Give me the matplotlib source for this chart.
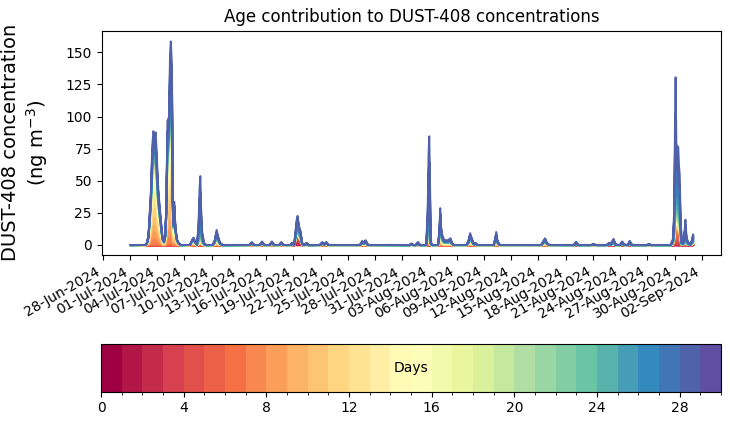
import numpy as np
import pandas as pd
import matplotlib
matplotlib.use("Agg")
import matplotlib.pyplot as plt
import matplotlib.dates as mdates
from matplotlib.colors import BoundaryNorm
from matplotlib.cm import ScalarMappable

# ---------------- data ----------------
n_days = 30

# age profiles (relative weights for age bins 0-1 ... 29-30 days)
prof_A = [0, 0, 0, 0, 0, 0.5, 1, 5, 6, 6, 7, 7, 7, 7, 6, 5, 4,
          2, 1.5, 1.5, 1, 1, 1, 1, 2, 2, 2, 3, 4, 8]
prof_old = [0, 0, 0, 0, 0, 1, 1, 1, 1, 1, 1, 1, 1, 1, 1, 1, 1,
            1, 1, 2, 2, 2, 2, 3, 4, 6, 9, 12, 16, 22]
prof_R = [0, 3, 10, 12, 6, 3, 2, 1, 1, 1, 1, 1, 1, 1, 1, 1, 1,
          1, 1, 1, 1, 1, 1, 2, 3, 5, 6, 8, 10, 12]
prof_Y = [0, 0, 0, 0, 0, 0, 1, 2, 3, 3, 4, 5, 5, 5, 5, 4, 3,
          1, 1, 1, 1, 1, 1, 1, 3, 4, 6, 8, 10, 14]
prof_O = [0, 0, 1, 2, 3, 4, 3, 2, 1, 1, 1, 1, 1, 1, 1, 1, 1,
          1, 1, 1, 1, 2, 2, 2, 3, 5, 8, 12, 16, 22]
profiles = {"A": prof_A, "B": prof_old, "R": prof_R, "Y": prof_Y, "O": prof_O}

node_times = [
    "2024-07-01 00:00", "2024-07-02 16:00", "2024-07-02 20:00", "2024-07-03 00:00",
    "2024-07-03 06:00", "2024-07-03 10:00", "2024-07-03 13:00", "2024-07-03 16:00",
    "2024-07-03 19:00", "2024-07-03 22:00", "2024-07-04 01:00", "2024-07-04 04:00",
    "2024-07-04 08:00", "2024-07-04 13:00", "2024-07-04 17:00", "2024-07-04 20:00",
    "2024-07-04 23:00", "2024-07-05 02:00", "2024-07-05 06:00", "2024-07-05 09:00",
    "2024-07-05 11:00", "2024-07-05 14:00", "2024-07-05 16:00", "2024-07-05 18:00",
    "2024-07-05 20:00", "2024-07-05 23:00", "2024-07-06 03:00", "2024-07-06 08:00",
    "2024-07-06 14:00",
    "2024-07-07 14:00", "2024-07-07 19:00", "2024-07-07 23:00", "2024-07-08 03:00",
    "2024-07-08 08:00", "2024-07-08 12:00", "2024-07-08 15:00", "2024-07-08 17:00",
    "2024-07-08 19:00", "2024-07-08 22:00", "2024-07-09 03:00", "2024-07-09 08:00",
    "2024-07-10 02:00", "2024-07-10 07:00", "2024-07-10 12:00", "2024-07-10 16:00",
    "2024-07-10 21:00", "2024-07-11 04:00",
    "2024-07-14 03:00", "2024-07-14 09:00", "2024-07-14 15:00",
    "2024-07-15 06:00", "2024-07-15 12:00", "2024-07-15 18:00",
    "2024-07-16 08:00", "2024-07-16 14:00", "2024-07-16 20:00",
    "2024-07-17 09:00", "2024-07-17 15:00", "2024-07-17 21:00",
    "2024-07-18 15:00", "2024-07-18 20:00", "2024-07-19 01:00", "2024-07-19 05:00",
    "2024-07-19 07:00", "2024-07-19 10:00", "2024-07-19 14:00", "2024-07-19 18:00",
    "2024-07-19 22:00", "2024-07-20 03:00", "2024-07-20 10:00", "2024-07-20 15:00",
    "2024-07-21 21:00", "2024-07-22 03:00", "2024-07-22 08:00", "2024-07-22 14:00",
    "2024-07-22 20:00",
    "2024-07-26 07:00", "2024-07-26 13:00", "2024-07-26 17:00", "2024-07-26 22:00",
    "2024-07-27 04:00",
    "2024-07-31 18:00", "2024-07-31 23:00", "2024-08-01 04:00",
    "2024-08-01 10:00", "2024-08-01 16:00", "2024-08-01 22:00",
    "2024-08-02 14:00", "2024-08-02 18:00", "2024-08-02 20:00", "2024-08-02 22:00",
    "2024-08-03 00:00", "2024-08-03 02:00", "2024-08-03 06:00",
    "2024-08-03 20:00", "2024-08-03 22:00", "2024-08-04 01:00", "2024-08-04 03:00",
    "2024-08-04 05:00", "2024-08-04 09:00", "2024-08-04 14:00", "2024-08-05 00:00",
    "2024-08-05 06:00", "2024-08-05 10:00", "2024-08-05 15:00",
    "2024-08-07 00:00", "2024-08-07 05:00", "2024-08-07 10:00", "2024-08-07 15:00",
    "2024-08-07 20:00", "2024-08-08 00:00", "2024-08-08 05:00",
    "2024-08-10 00:00", "2024-08-10 04:00", "2024-08-10 07:00", "2024-08-10 10:00",
    "2024-08-10 15:00", "2024-08-10 20:00",
    "2024-08-15 06:00", "2024-08-15 11:00", "2024-08-15 16:00", "2024-08-15 21:00",
    "2024-08-16 03:00",
    "2024-08-18 20:00", "2024-08-19 02:00", "2024-08-19 08:00",
    "2024-08-20 18:00", "2024-08-21 00:00", "2024-08-21 06:00",
    "2024-08-22 11:00", "2024-08-22 17:00", "2024-08-22 21:00", "2024-08-23 05:00",
    "2024-08-23 11:00",
    "2024-08-23 22:00", "2024-08-24 04:00", "2024-08-24 10:00",
    "2024-08-24 18:00", "2024-08-25 00:00", "2024-08-25 06:00",
    "2024-08-26 21:00", "2024-08-27 03:00", "2024-08-27 09:00",
    "2024-08-29 12:00", "2024-08-29 18:00", "2024-08-29 21:00", "2024-08-30 00:00",
    "2024-08-30 01:00", "2024-08-30 03:00", "2024-08-30 05:00", "2024-08-30 08:00",
    "2024-08-30 10:00", "2024-08-30 12:00", "2024-08-30 14:00", "2024-08-30 17:00",
    "2024-08-30 21:00", "2024-08-31 01:00", "2024-08-31 03:00", "2024-08-31 06:00",
    "2024-08-31 11:00", "2024-08-31 16:00", "2024-08-31 20:00", "2024-08-31 23:00",
    "2024-09-01 00:00",
]
node_totals = [
    0.3, 0.3, 2, 8,
    40, 78, 89, 83,
    88, 70, 48, 36,
    22, 6, 3, 8,
    30, 97, 100, 150,
    159, 140, 40, 18,
    34, 15, 5, 1.5,
    0.3,
    0.3, 4, 6, 3,
    1, 15, 45, 54,
    30, 10, 2, 0.3,
    0.3, 4, 12, 7,
    2, 0.3,
    0.3, 2.5, 0.3,
    0.3, 3, 0.3,
    0.3, 3, 0.3,
    0.3, 2.5, 0.3,
    0.3, 2, 0.5, 12,
    19, 23, 15, 11,
    2, 0.3, 2, 0.3,
    0.3, 2.5, 0.8, 2.5,
    0.3,
    0.3, 3.5, 2, 4,
    0.3,
    0.3, 1.5, 0.3,
    0.3, 2.6, 0.3,
    0.3, 30, 70, 85,
    50, 3, 0.3,
    0.3, 2, 14, 29,
    15, 7, 4, 4,
    5.5, 2, 0.3,
    0.3, 3, 9.5, 5,
    1, 2, 0.3,
    0.3, 5, 10.4, 4,
    0.5, 0.3,
    0.3, 3, 5.5, 2,
    0.3,
    0.3, 2.8, 0.3,
    0.3, 1, 0.3,
    0.3, 2, 1, 5,
    0.5,
    0.3, 3, 0.5,
    0.3, 3.5, 0.3,
    0.3, 1, 0.3,
    0.3, 5, 25, 110,
    131, 80, 76, 77,
    62, 55, 25, 3,
    2, 12, 20, 6,
    2, 1, 4, 8.6,
    8,
]
node_profiles = (
    ["B"] + ["A"] * 27 + ["B"]
    + ["A"] * 4 + ["B"] * 8
    + ["Y"] * 5 + ["B"]
    + ["Y"] * 12
    + ["Y"] * 2 + ["R"] * 7 + ["B"] * 3
    + ["Y"] * 5
    + ["Y"] * 5
    + ["B"] * 6
    + ["B"] * 7
    + ["Y"] * 11
    + ["Y"] * 7
    + ["Y"] * 6
    + ["Y"] * 5
    + ["O"] * 3 + ["O"] * 3 + ["O"] * 5
    + ["O"] * 3 + ["O"] * 3 + ["O"] * 3
    + ["O"] * 21
)

title = "Age contribution to DUST-408 concentrations"
ylabel = "DUST-408 concentration\n(ng m$^{-3}$)"
cbar_label = "Days"
tick_start, tick_end = "2024-06-28", "2024-09-02"

# ---------------- build layers ----------------
times = pd.to_datetime(node_times)
totals = np.array(node_totals, dtype=float)
prof_mat = np.array([np.array(profiles[k], float) / np.sum(profiles[k])
                     for k in node_profiles])          # (N, 30)
layers = (prof_mat * totals[:, None]).T                 # (30, N)

cmap = plt.get_cmap("Spectral", n_days)
line_cmap = plt.get_cmap("Spectral")
colors = [line_cmap(i / n_days) for i in range(n_days)]

# ---------------- figure ----------------
fig = plt.figure(figsize=(7.3, 4.25), dpi=100)
ax = fig.add_axes([0.1393, 0.40, 0.8484, 0.5278])
ax.stackplot(times, layers, colors=colors, edgecolor="face", linewidth=1.4)
ax.use_sticky_edges = False
ax.autoscale_view()

ticks = pd.date_range(tick_start, tick_end, freq="3D")
ax.set_xticks(ticks)
ax.xaxis.set_major_formatter(mdates.DateFormatter("%d-%b-%Y"))
for lab in ax.get_xticklabels():
    lab.set_rotation(30)
    lab.set_ha("right")
ax.tick_params(labelsize=10)
ax.set_title(title, fontsize=12)
ax.set_ylabel(ylabel, fontsize=14)
ax.yaxis.set_label_coords(-0.083, 0.5)

cax = fig.add_axes([0.1384, 0.0784, 0.8493, 0.1115])
norm = BoundaryNorm(np.arange(n_days + 1), n_days)
sm = ScalarMappable(norm=norm, cmap=cmap)
cb = fig.colorbar(sm, cax=cax, orientation="horizontal", ticks=np.arange(0, n_days, 4))
cb.ax.tick_params(labelsize=10)
cax.text(15, 0.5, cbar_label, ha="center", va="center", fontsize=10,
         transform=cax.get_xaxis_transform())

fig.savefig("out.png", dpi=100)
